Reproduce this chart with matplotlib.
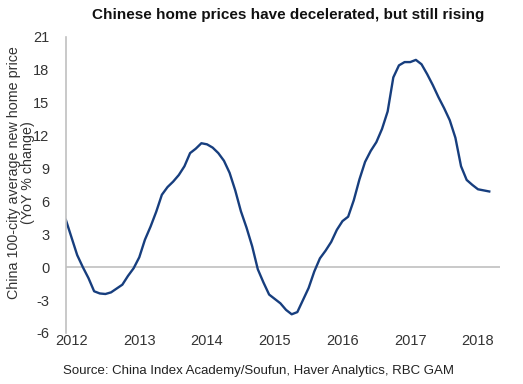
import numpy as np
import matplotlib.pyplot as plt

plt.rcParams['font.family'] = ['Liberation Sans', 'DejaVu Sans']

# monthly YoY % change, Dec 2011 .. Mar 2018
start_year = 2011 + 11 / 12.0
yoy = [4.3, 2.7, 1.1, 0.0, -1.0, -2.2, -2.4, -2.45, -2.3, -1.95, -1.6, -0.8,
       -0.1, 0.9, 2.5, 3.7, 5.05, 6.6, 7.3, 7.8, 8.4, 9.2, 10.4, 10.8,
       11.3, 11.2, 10.9, 10.4, 9.7, 8.6, 7.0, 5.1, 3.6, 1.9, -0.2, -1.4,
       -2.5, -2.9, -3.3, -3.9, -4.3, -4.1, -3.0, -1.9, -0.4, 0.8, 1.5, 2.3,
       3.4, 4.2, 4.6, 6.1, 8.0, 9.6, 10.6, 11.4, 12.6, 14.2, 17.3, 18.4,
       18.7, 18.7, 18.9, 18.5, 17.6, 16.6, 15.5, 14.5, 13.4, 11.8, 9.2, 7.95,
       7.5, 7.1, 7.0, 6.9]
years = [2012, 2013, 2014, 2015, 2016, 2017, 2018]
yticks = list(range(-6, 22, 3))

x = start_year + np.arange(len(yoy)) / 12.0

fig = plt.figure(figsize=(5.23, 3.84), dpi=100)
ax = fig.add_axes([0.126, 0.133, 0.83, 0.771])

ax.axhline(0, color='#c0c0c0', lw=1.2, zorder=1)
ax.plot(x, yoy, color='#173e7e', lw=1.7, zorder=2)

ax.set_xlim(start_year, start_year + 76.9 / 12.0)
ax.set_ylim(-6, 21)
ax.set_yticks(yticks)
ax.set_yticklabels([str(v) for v in yticks])  # plain hyphen like the original
ax.set_xticks(years)
ax.tick_params(length=0, labelsize=10.5, labelcolor='#333333')
ax.tick_params(axis='y', pad=12)
ax.tick_params(axis='x', pad=1)

for s in ['top', 'right', 'bottom']:
    ax.spines[s].set_visible(False)
ax.spines['left'].set_color('#c0c0c0')
ax.spines['left'].set_linewidth(1.2)

fig.text(0.04, 0.55, 'China 100-city average new home price\n(YoY % change)',
         rotation=90, ha='center', va='center', multialignment='center',
         fontsize=10.3, color='#333333', linespacing=0.95)
fig.text(0.55, 0.96, 'Chinese home prices have decelerated, but still rising',
         ha='center', va='center', fontsize=11, fontweight='bold', color='#111111')
fig.text(0.12, 0.035, 'Source: China Index Academy/Soufun, Haver Analytics, RBC GAM',
         ha='left', va='center', fontsize=9.5, color='#222222')

fig.savefig('out.png', dpi=100)
